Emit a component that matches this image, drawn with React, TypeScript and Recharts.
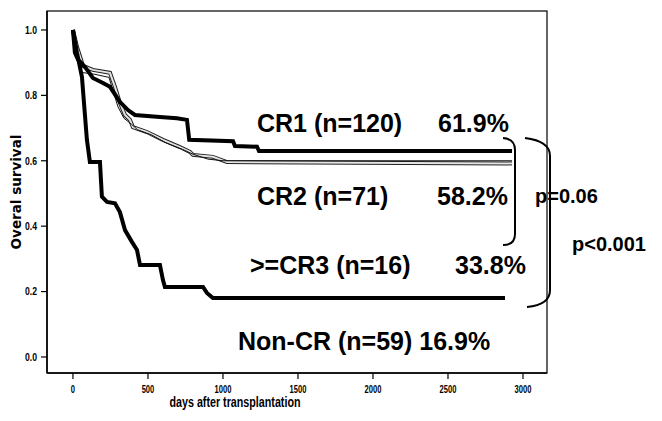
import { LineChart, Line, XAxis, YAxis } from "recharts";

// Kaplan-Meier estimates (days, survival)
const cr1Days = [0, 13, 33, 80, 133, 200, 247, 313, 367, 413, 580, 693, 760, 775, 1067, 1080, 1227, 1240, 2927];
const cr1Surv = [1, 0.93, 0.91, 0.887, 0.853, 0.838, 0.826, 0.78, 0.755, 0.74, 0.734, 0.73, 0.725, 0.664, 0.66, 0.645, 0.643, 0.63, 0.63];

const cr2Days = [0, 27, 67, 133, 247, 280, 313, 347, 380, 400, 493, 600, 713, 780, 800, 933, 1027, 2927];
const cr2Surv = [1, 0.948, 0.89, 0.878, 0.869, 0.826, 0.777, 0.74, 0.725, 0.703, 0.688, 0.664, 0.642, 0.627, 0.618, 0.612, 0.596, 0.592];

const cr3Days = [0, 20, 60, 140, 240, 270, 300, 340, 390, 430, 520, 620, 730, 800, 900, 1000, 2927];
const cr3Surv = [1, 0.93, 0.87, 0.865, 0.855, 0.81, 0.765, 0.73, 0.712, 0.695, 0.68, 0.655, 0.635, 0.62, 0.605, 0.6, 0.6];

const nonCrDays = [0, 27, 60, 93, 113, 180, 193, 227, 280, 313, 347, 393, 427, 447, 580, 600, 613, 867, 893, 933, 2880];
const nonCrSurv = [1, 0.93, 0.856, 0.664, 0.596, 0.596, 0.49, 0.474, 0.47, 0.443, 0.388, 0.352, 0.327, 0.281, 0.281, 0.235, 0.214, 0.214, 0.196, 0.18, 0.18];

const xTicks = [0, 500, 1000, 1500, 2000, 2500, 3000];
const yTicks = [0, 0.2, 0.4, 0.6, 0.8, 1.0];

const toRows = (days: number[], surv: number[]) => days.map((d, i) => ({ day: d, s: surv[i] }));

const xDomain = [-173, 3160];
const yDomain = [-0.049, 1.058];

const sans = "'Liberation Sans', Arial, sans-serif";

// condensed bold tick labels, like the scanned figure
const XTick = ({ x, y, payload }: any) => {
  const label = String(payload.value);
  return (
    <text x={x} y={y} dy="0.71em" textAnchor="middle" fontFamily={sans} fontWeight={700} fontSize={11.5}
      textLength={label.length * 4.2} lengthAdjust="spacingAndGlyphs" fill="#000">
      {label}
    </text>
  );
};

const YTick = ({ x, y, payload }: any) => (
  <text x={x} y={y} dy="0.355em" textAnchor="end" fontFamily={sans} fontWeight={700} fontSize={11}
    textLength={12} lengthAdjust="spacingAndGlyphs" fill="#000">
    {payload.value.toFixed(1)}
  </text>
);

export default function App() {
  return (
    <div style={{ position: "absolute", left: 0, top: 0, width: 662, height: 421, background: "#fff" }}>
      <LineChart width={662} height={421} margin={{ top: 11, right: 115, left: 0, bottom: 0 }}>
        <XAxis
          dataKey="day"
          type="number"
          domain={xDomain}
          ticks={xTicks}
          allowDataOverflow
          height={48}
          tick={<XTick />}
          tickSize={6}
          tickMargin={6}
          axisLine={{ stroke: "#000", strokeWidth: 1.5 }}
          tickLine={{ stroke: "#000", strokeWidth: 1.2 }}
        />
        <YAxis
          type="number"
          domain={yDomain}
          ticks={yTicks}
          allowDataOverflow
          width={47}
          tick={<YTick />}
          tickSize={6}
          tickMargin={4}
          axisLine={{ stroke: "#000", strokeWidth: 1.5 }}
          tickLine={{ stroke: "#000", strokeWidth: 1.2 }}
        />
        <Line data={toRows(cr2Days, cr2Surv)} dataKey="s" type="linear" stroke="#222" strokeWidth={4} dot={false} isAnimationActive={false} />
        <Line data={toRows(cr2Days, cr2Surv)} dataKey="s" type="linear" stroke="#e4e4e4" strokeWidth={2} dot={false} isAnimationActive={false} />
        <Line data={toRows(cr3Days, cr3Surv)} dataKey="s" type="linear" stroke="#111" strokeWidth={1} dot={false} isAnimationActive={false} />
        <Line data={toRows(nonCrDays, nonCrSurv)} dataKey="s" type="linear" stroke="#000" strokeWidth={4} dot={false} isAnimationActive={false} />
        <Line data={toRows(cr1Days, cr1Surv)} dataKey="s" type="linear" stroke="#000" strokeWidth={4} dot={false} isAnimationActive={false} />
      </LineChart>
      <svg width={662} height={421} style={{ position: "absolute", left: 0, top: 0, pointerEvents: "none" }}>
        <rect x={47} y={11} width={500} height={362} fill="none" stroke="#000" strokeWidth={1.2} />
        <text x={16} y={192} transform="rotate(-90 16 192)" textAnchor="middle" dominantBaseline="central" fontFamily="'DejaVu Sans', sans-serif" fontWeight={700} fontSize={13.5}>
          Overal survival
        </text>
        <text x={235} y={407} textAnchor="middle" fontFamily={sans} fontWeight={700} fontSize={14} textLength={131} lengthAdjust="spacingAndGlyphs">
          days after transplantation
        </text>
        <g fontFamily={sans} fontWeight={700} fontSize={25} fill="#000">
          <text x={257} y={132}>CR1 (n=120)</text>
          <text x={438} y={132}>61.9%</text>
          <text x={257} y={205}>CR2 (n=71)</text>
          <text x={437} y={205}>58.2%</text>
          <text x={250} y={274}>{">=CR3 (n=16)"}</text>
          <text x={455} y={274}>33.8%</text>
          <text x={238} y={350}>Non-CR (n=59) 16.9%</text>
        </g>
        <g fontFamily={sans} fontWeight={700} fontSize={20} fill="#000">
          <text x={535} y={203}>p=0.06</text>
          <text x={572} y={251}>p&lt;0.001</text>
        </g>
        <g fill="none" stroke="#000" strokeWidth={2}>
          <path d="M503 138 Q515 139 515 150 L515 234 Q515 245 503 245" />
          <path d="M525 138 Q550 141 550 156 L550 290 Q550 305 527 307" />
        </g>
      </svg>
    </div>
  );
}
